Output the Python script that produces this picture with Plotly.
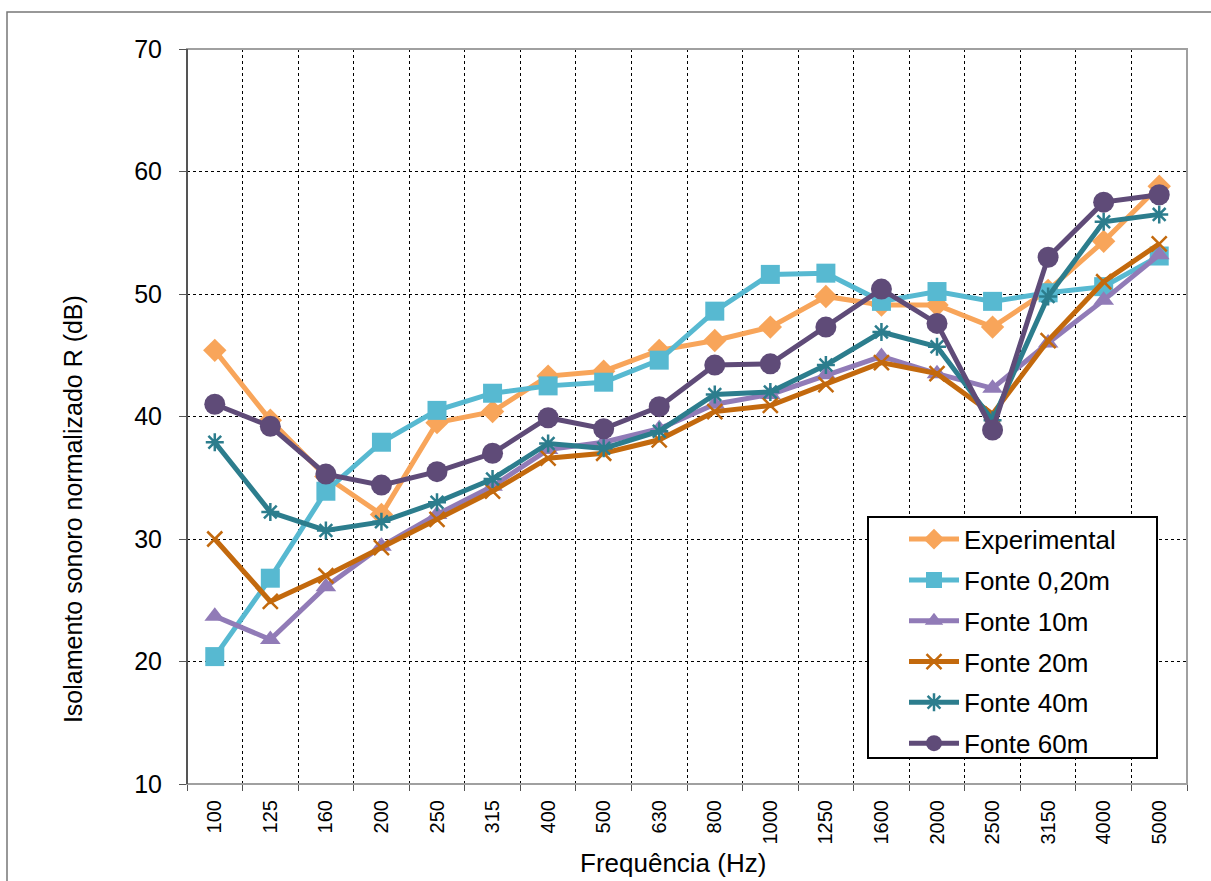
import plotly.graph_objects as go

# Frequências de banda de terço de oitava (Hz)
freqs = ["100", "125", "160", "200", "250", "315", "400", "500", "630",
         "800", "1000", "1250", "1600", "2000", "2500", "3150", "4000", "5000"]

# Isolamento sonoro normalizado R (dB)
experimental = [45.4, 39.7, 35.1, 32.0, 39.5, 40.4, 43.3, 43.7, 45.4,
                46.2, 47.3, 49.8, 49.1, 49.1, 47.3, 50.3, 54.3, 58.8]
fonte_020 = [20.4, 26.8, 33.9, 37.9, 40.5, 41.9, 42.5, 42.8, 44.6,
             48.6, 51.6, 51.7, 49.4, 50.2, 49.4, 50.1, 50.6, 53.1]
fonte_10 = [23.7, 21.8, 26.1, 29.4, 32.0, 34.3, 37.3, 37.9, 39.0,
            41.0, 41.8, 43.4, 44.9, 43.5, 42.3, 46.0, 49.5, 53.2]
fonte_20 = [30.0, 24.9, 27.0, 29.3, 31.6, 33.9, 36.6, 37.0, 38.1,
            40.4, 40.9, 42.6, 44.4, 43.5, 40.2, 46.2, 51.0, 54.1]
fonte_40 = [37.9, 32.2, 30.7, 31.4, 33.0, 34.9, 37.8, 37.4, 38.8,
            41.8, 42.0, 44.2, 46.9, 45.7, 39.7, 49.8, 55.9, 56.5]
fonte_60 = [41.0, 39.2, 35.3, 34.4, 35.5, 37.0, 39.9, 39.0, 40.8,
            44.2, 44.3, 47.3, 50.4, 47.6, 38.9, 53.0, 57.5, 58.1]

FONT = "Liberation Sans, Arial, sans-serif"

series = [
    ("Experimental", experimental, "#F8A55A", "diamond", 18, False),
    ("Fonte 0,20m", fonte_020, "#57B9D1", "square", 19, False),
    ("Fonte 10m", fonte_10, "#917BB7", "triangle-up", 18, False),
    ("Fonte 20m", fonte_20, "#C3690D", "x-thin", 15, True),
    ("Fonte 40m", fonte_40, "#2C7D8D", "asterisk", 15, True),
    ("Fonte 60m", fonte_60, "#5F4B78", "circle", 21, False),
]

fig = go.Figure()
for i, (name, vals, color, symbol, size, open_marker) in enumerate(series):
    marker = dict(symbol=symbol, size=size, color=color)
    if open_marker:
        marker["line"] = dict(color=color, width=2.5)
    else:
        marker["line"] = dict(width=0)
    fig.add_trace(go.Scatter(
        x=freqs, y=vals, name=name, mode="lines+markers",
        line=dict(color=color, width=5),
        marker=marker, legendgroup=f"g{i}",
    ))

fig.update_layout(
    width=1211, height=881,
    margin=dict(l=187, r=24, t=49, b=97),
    paper_bgcolor="white", plot_bgcolor="white",
    font=dict(family=FONT, color="black", size=25),
    showlegend=True,
    legend=dict(
        x=0.717, y=0.365, xanchor="left", yanchor="top",
        bgcolor="rgba(0,0,0,0)", borderwidth=0,
        font=dict(family=FONT, size=26, color="black"),
        traceorder="grouped", tracegroupgap=4, itemwidth=50,
    ),
    xaxis=dict(
        type="category", range=[-0.5, 17.5],
        tickson="boundaries", ticks="outside", ticklen=6, tickcolor="#555555",
        showgrid=True, gridcolor="black", griddash="dot", gridwidth=1,
        tickangle=-90, tickfont=dict(family=FONT, size=20),
        ticklabelstandoff=11,
        showline=False, zeroline=False,
    ),
    yaxis=dict(
        range=[10, 70], dtick=10, tick0=10,
        ticks="outside", ticklen=7, tickcolor="#555555",
        showgrid=True, gridcolor="black", griddash="dot", gridwidth=1,
        tickfont=dict(family=FONT, size=25),
        ticklabelstandoff=12,
        showline=False, zeroline=False,
    ),
    shapes=[
        # moldura exterior do gráfico
        dict(type="rect", xref="paper", yref="paper",
             x0=-0.18, x1=1.2, y0=-0.3, y1=1.0503,
             line=dict(color="#777777", width=1.5), layer="below"),
        # contorno da área de plotagem
        dict(type="rect", xref="paper", yref="paper", x0=0, x1=1, y0=0, y1=1,
             line=dict(color="#A0A0A0", width=2), layer="above"),
        dict(type="line", xref="paper", yref="paper", x0=0, x1=0, y0=0, y1=1,
             line=dict(color="#555555", width=2), layer="above"),
        # caixa da legenda
        dict(type="rect", xref="paper", yref="paper",
             x0=0.681, x1=0.970, y0=0.0354, y1=0.3633,
             fillcolor="white", line=dict(color="black", width=2), layer="above"),
    ],
    annotations=[
        dict(text="Frequência (Hz)", xref="paper", yref="paper",
             x=0.486, y=-0.108, xanchor="center", yanchor="middle",
             showarrow=False, font=dict(family=FONT, size=26)),
        dict(text="Isolamento sonoro normalizado R (dB)", xref="paper", yref="paper",
             x=-0.114, y=0.374, xanchor="center", yanchor="middle", textangle=-90,
             showarrow=False, font=dict(family=FONT, size=25)),
    ],
)

fig.write_html("out.html")
